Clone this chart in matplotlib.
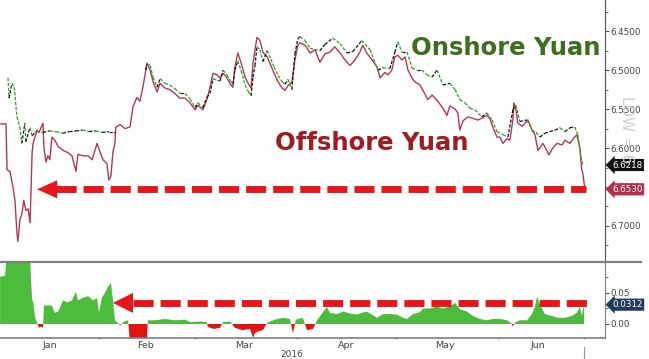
import numpy as np
import pandas as pd
import matplotlib
matplotlib.use("Agg")
import matplotlib.pyplot as plt
import matplotlib.dates as mdates
import matplotlib.transforms as mtransforms
from matplotlib.collections import LineCollection
from matplotlib.ticker import MultipleLocator, FixedLocator, FormatStrFormatter

# days counted from 2016-01-01
cnh_day = [1.0, 2.8, 3.1, 4.0, 4.9, 5.5, 6.1, 6.4, 7.0, 7.6, 8.2, 8.8, 9.5, 10.1, 10.7, 11.0, 12.2, 12.8,
           14.0, 14.3, 14.9, 15.5, 16.1, 16.7, 17.6, 18.6, 20.1, 21.6, 22.8, 24.0, 24.6, 26.1, 27.7, 28.9,
           30.4, 31.3, 32.2, 33.4, 34.0, 34.6, 35.2, 35.8, 36.1, 37.4, 38.9, 40.4, 41.3, 42.5, 43.4, 44.3,
           45.2, 45.5, 46.5,
           47.4, 48.6, 49.5, 51.0, 52.5, 54.0, 55.5, 57.1, 58.6, 60.1, 61.0, 62.5, 63.7, 64.6, 65.6, 66.8,
           67.7, 68.6, 69.8, 70.7, 71.6, 72.2, 73.1, 74.1, 75.3, 76.2, 77.1, 77.7, 78.3, 78.9, 79.8, 80.7,
           82.0, 83.1, 84.1, 85.3, 86.5, 87.4, 88.3, 89.5, 90.4, 91.3, 91.9,
           93.5, 95.0, 96.5, 98.0, 99.5, 101.0, 102.5, 104.1, 105.6, 107.1, 108.6, 110.1, 111.0, 112.2,
           113.8, 115.3, 116.2, 117.7, 118.6, 119.8, 120.7, 121.6, 122.9, 123.8, 124.7, 125.9, 126.8,
           128.3, 129.5, 130.7, 132.0, 132.9, 134.1, 135.3, 136.5, 137.4,
           139.0, 139.8, 140.4, 141.4, 142.9, 144.4, 145.9, 147.4, 148.6, 149.5, 150.5, 151.7, 152.6,
           153.5, 154.7, 155.6, 156.5, 156.8, 157.4, 158.0, 159.3, 160.2, 161.1, 162.3, 163.2, 164.1,
           165.6, 166.8, 167.4, 168.6, 169.9, 171.4, 172.3, 173.8, 175.0, 175.9, 176.8, 177.4, 177.7,
           178.1, 178.4]
cnh_val = [6.569, 6.569, 6.628, 6.630, 6.650, 6.667, 6.709, 6.720, 6.692, 6.685, 6.667, 6.680, 6.678,
           6.696, 6.606, 6.594, 6.577, 6.580, 6.568, 6.599, 6.618, 6.610, 6.615, 6.586, 6.590, 6.598,
           6.603, 6.606, 6.610, 6.630, 6.608, 6.610, 6.610, 6.615, 6.594, 6.605, 6.615, 6.620, 6.641,
           6.636, 6.606, 6.594, 6.573, 6.570, 6.575, 6.573, 6.547, 6.535, 6.540, 6.522, 6.500, 6.491,
           6.500,
           6.515, 6.528, 6.517, 6.523, 6.525, 6.530, 6.536, 6.536, 6.542, 6.551, 6.545, 6.551, 6.538,
           6.523, 6.504, 6.506, 6.510, 6.504, 6.510, 6.517, 6.522, 6.496, 6.478, 6.491, 6.509, 6.517,
           6.523, 6.491, 6.474, 6.458, 6.462, 6.477, 6.483, 6.494, 6.504, 6.515, 6.523, 6.526, 6.520,
           6.515, 6.487, 6.468, 6.465,
           6.468, 6.478, 6.474, 6.490, 6.479, 6.477, 6.470, 6.478, 6.487, 6.494, 6.487, 6.477, 6.468,
           6.478, 6.487, 6.496, 6.510, 6.503, 6.506, 6.500, 6.483, 6.481, 6.487, 6.483, 6.500, 6.510,
           6.515, 6.519, 6.528, 6.538, 6.532, 6.536, 6.542, 6.549, 6.558, 6.546,
           6.550, 6.555, 6.577, 6.565, 6.560, 6.562, 6.564, 6.561, 6.558, 6.562, 6.574, 6.586, 6.586,
           6.594, 6.588, 6.590, 6.564, 6.542, 6.550, 6.568, 6.572, 6.568, 6.564, 6.577, 6.583, 6.603,
           6.594, 6.603, 6.609, 6.600, 6.594, 6.596, 6.590, 6.594, 6.587, 6.583, 6.599, 6.628, 6.632,
           6.645, 6.6530]

cny_day = [3.4, 3.7, 4.6, 5.3, 6.1, 7.0, 7.6, 8.5, 8.8, 10.0, 10.7, 12.0, 14.0, 16.0, 18.0, 20.0, 22.0,
           24.0, 26.0, 28.0, 30.0, 32.0, 34.0, 35.8, 40.0, 45.2, 45.5, 46.5,
           47.4, 48.6, 49.5, 51.0, 52.5, 54.0, 55.5, 57.1, 58.6, 60.1, 61.0, 62.5, 63.7, 64.6, 65.6, 66.8,
           67.7, 68.6, 69.8, 70.7, 71.6, 72.2, 73.1, 74.1, 75.3, 76.2, 77.1, 77.7, 78.3, 78.9, 79.8, 80.7,
           82.0, 83.1, 84.1, 85.3, 86.5, 87.4, 88.3, 89.5, 90.4, 91.3, 91.9, 93.5,
           95.0, 98.0, 99.5, 101.9, 104.1, 106.2, 108.0, 110.7, 113.2, 115.6, 117.1, 119.2, 120.7, 121.6,
           122.9, 124.4, 125.9, 127.4, 128.9, 130.4, 132.0, 133.5, 135.3, 137.4, 139.0, 140.4, 142.0,
           143.5, 145.0, 147.1, 148.6, 150.2, 151.7, 153.5, 155.0, 156.5, 157.4, 158.6, 160.8, 162.3,
           163.5, 164.7, 166.2, 167.7, 169.3, 170.8, 172.3, 173.8, 175.3, 176.2, 177.1, 177.7]
cny_val = [6.510, 6.536, 6.517, 6.522, 6.560, 6.573, 6.594, 6.568, 6.592, 6.574, 6.584, 6.579, 6.580,
           6.578, 6.579, 6.581, 6.579, 6.578, 6.577, 6.579, 6.578, 6.580, 6.579, 6.579, np.nan, 6.500,
           6.492, 6.494,
           6.509, 6.522, 6.511, 6.517, 6.519, 6.524, 6.530, 6.530, 6.537, 6.548, 6.542, 6.548, 6.535,
           6.530, 6.511, 6.513, 6.514, 6.500, 6.506, 6.513, 6.518, 6.500, 6.488, 6.501, 6.519, 6.527,
           6.533, 6.509, 6.494, 6.470, 6.474, 6.489, 6.475, 6.486, 6.496, 6.507, 6.515, 6.518, 6.512,
           6.525, 6.479, 6.460, 6.457, 6.462,
           6.472, 6.475, 6.467, 6.459, 6.466, 6.478, 6.476, 6.462, 6.474, 6.500, 6.497, 6.498, 6.477,
           6.464, 6.477, 6.477, 6.497, 6.500, 6.500, 6.506, 6.509, 6.500, 6.519, 6.517, 6.525, 6.538,
           6.542, 6.549, 6.551, 6.560, 6.555, 6.564, 6.579, 6.583, 6.586, 6.551, 6.545, 6.566, 6.564,
           6.577, 6.580, 6.586, 6.581, 6.579, 6.577, 6.574, 6.579, 6.574, 6.573, 6.583, 6.611, 6.6218]

spread_day = [1.0, 2.5, 3.1, 5.5, 7.6, 9.5, 10.1, 10.7, 11.0, 11.6, 12.2, 12.8, 13.7, 14.0, 14.3, 15.5,
              16.7, 17.6, 18.6, 20.1, 21.3, 22.8, 24.0, 24.6, 26.1, 27.7, 29.2, 30.4, 31.0, 31.9, 32.8,
              33.7, 34.6, 35.2, 35.8, 37.4, 38.6, 39.8, 40.4, 43.4, 45.5, 45.8, 48.0, 51.0, 54.0, 57.1,
              58.6, 61.6, 63.7, 64.0, 65.9, 67.7, 68.6, 70.7, 72.2, 74.4, 76.8, 77.7, 78.3, 79.2, 80.7,
              82.0, 84.4, 86.8, 88.9, 89.8, 90.7, 92.8, 94.1, 95.9, 97.1, 98.9, 100.1, 101.0, 103.2,
              105.0, 107.1, 109.2, 110.7, 112.2, 113.8, 115.3, 117.1, 119.2, 121.4, 123.2, 124.4, 126.2,
              128.3, 129.2, 131.3, 133.5, 135.3, 137.4, 139.0, 140.4, 142.6, 144.4, 146.5, 148.6, 150.5,
              152.6, 154.7, 155.9, 156.5, 157.1, 158.6, 160.8, 162.3, 163.2, 163.8, 164.7, 166.2, 168.3,
              170.2, 172.3, 174.4, 175.9, 176.8, 177.4, 178.1]
spread_val = [0.076, 0.078, 0.115, 0.120, 0.110, 0.120, 0.105, 0.039, 0.036, 0.011, 0.002, -0.006,
              -0.004, -0.008, 0.030, 0.030, 0.030, 0.018, 0.020, 0.038, 0.035, 0.038, 0.052, 0.038,
              0.042, 0.045, 0.038, 0.042, 0.019, 0.043, 0.050, 0.060, 0.066, 0.040, 0.006, -0.002,
              0.004, 0.006, -0.030, -0.040, -0.030, 0.006, 0.006, 0.008, 0.006, 0.007, 0.003, 0.004,
              0.003, -0.005, -0.008, -0.006, 0.003, 0.004, -0.006, -0.010, -0.008, -0.022, -0.015,
              -0.012, -0.010, 0.002, 0.007, 0.010, 0.008, -0.015, 0.007, 0.010, -0.010, -0.008, 0.006,
              0.019, 0.028, 0.018, 0.016, 0.020, 0.017, 0.015, 0.018, 0.020, 0.015, 0.010, 0.016, 0.016,
              0.015, 0.010, 0.008, 0.016, 0.019, 0.025, 0.025, 0.028, 0.025, 0.028, 0.034, 0.024, 0.020,
              0.013, 0.008, 0.006, 0.008, 0.008, 0.006, 0.002, -0.004, 0.002, 0.006, 0.006, 0.016, 0.028,
              0.044, 0.032, 0.016, 0.013, 0.010, 0.010, 0.013, 0.018, 0.028, 0.014, 0.0312]

month_labels = ["Jan", "Feb", "Mar", "Apr", "May", "Jun"]
month_label_days = [16, 45, 75, 106, 136, 164]
month_tick_days = [31, 60, 91, 121, 152, 178]
year_label = "2016"
year_label_day = 89.5

start = pd.Timestamp("2016-01-01")


def to_dates(days):
    return start + pd.to_timedelta(np.asarray(days, dtype=float), unit="D")


cnh_x = to_dates(cnh_day)
cny_x = to_dates(cny_day)
spr_x = to_dates(spread_day)
spr = np.array(spread_val)

RED = "#e8161b"
GREEN_FILL = "#4dbb3d"
NEG_FILL = "#e3140f"

fig = plt.figure(figsize=(6.49, 3.59), dpi=100)
ax = fig.add_axes([0.0, 0.273, 0.932, 0.727])
ax2 = fig.add_axes([0.0, 0.0585, 0.932, 0.2117], sharex=ax)

# --- top panel: offshore line + onshore as short broken candle-like strokes
ax.plot(cnh_x, cnh_val, color="#b2385a", lw=1.0, zorder=2)

xn = mdates.date2num(cny_x)
yv = np.array(cny_val)
pts = np.column_stack([xn, yv])
segs = np.stack([pts[:-1], pts[1:]], axis=1)
seg_cols = ["#2f9a2f" if d > 0 else "#111111" for d in np.diff(yv)]
ax.add_collection(LineCollection(segs, colors=seg_cols, linewidths=0.9,
                                 linestyles=[(0, (2.6, 1.3))], zorder=3))

ax.set_ylim(6.745, 6.410)
ax.set_xlim(to_dates([0.97])[0], to_dates([184.4])[0])

# red dashed arrow at the offshore level
lvl = cnh_val[-1]
ax.plot(to_dates([18.0, 178.6]), [lvl, lvl], color=RED, lw=5, dashes=(2.9, 1.0),
        dash_capstyle="butt", zorder=4)
ax.annotate("", xy=(to_dates([12.2])[0], lvl), xytext=(to_dates([18.4])[0], lvl),
            arrowprops=dict(arrowstyle="-|>,head_length=1.45,head_width=0.65", color=RED,
                            lw=0, shrinkA=0, shrinkB=0, mutation_scale=10), zorder=4)

ax.text(0.679, 0.789, "Onshore Yuan", transform=ax.transAxes, fontsize=17.5, fontweight="bold",
        color="#3e6f1f", va="baseline", ha="left")
ax.text(0.4545, 0.425, "Offshore Yuan", transform=ax.transAxes, fontsize=17.5, fontweight="bold",
        color="#9e1c22", va="baseline", ha="left")

for s in ["top", "left", "bottom"]:
    ax.spines[s].set_visible(False)
ax.spines["right"].set_color("#555555")
ax.yaxis.tick_right()
ax.yaxis.set_major_locator(MultipleLocator(0.05))
ax.yaxis.set_minor_locator(MultipleLocator(0.025))
ax.yaxis.set_major_formatter(FormatStrFormatter("%.4f"))
ax.tick_params(axis="y", which="major", length=3, color="#555555", labelsize=6.3,
               labelcolor="#444444", pad=1)
ax.tick_params(axis="y", which="minor", length=2, color="#555555")
ax.tick_params(axis="x", which="both", bottom=False, labelbottom=False)

# faint side note, partly hidden behind the badges as in the original
fig.text(0.966, 0.64, "LOW = 6", rotation=270, fontsize=11, color="#cfcfcf",
         ha="center", va="center", zorder=0)

# value badges
btr = mtransforms.blended_transform_factory(ax.transAxes, ax.transData)
ax.text(1.012, cny_val[-1], f"{cny_val[-1]:.4f}", transform=btr, fontsize=6.3, color="white",
        va="center", ha="left", zorder=6,
        bbox=dict(boxstyle="larrow,pad=0.18", fc="#111111", ec="none"))
ax.text(1.012, cnh_val[-1], f"{cnh_val[-1]:.4f}", transform=btr, fontsize=6.3, color="white",
        va="center", ha="left", zorder=6,
        bbox=dict(boxstyle="larrow,pad=0.18", fc="#b2304d", ec="none"))

# --- bottom panel: spread
ax2.fill_between(spr_x, 0, spr, where=spr >= 0, interpolate=True, color=GREEN_FILL, lw=0)
ax2.fill_between(spr_x, 0, spr, where=spr <= 0, interpolate=True, color=NEG_FILL, lw=0)
ax2.set_ylim(-0.0226, 0.100)

slvl = 0.034
ax2.plot(to_dates([41.3, 179.0]), [slvl, slvl], color=RED, lw=5, dashes=(2.9, 1.0),
         dash_capstyle="butt", zorder=4)
ax2.annotate("", xy=(to_dates([35.2])[0], slvl), xytext=(to_dates([41.5])[0], slvl),
             arrowprops=dict(arrowstyle="-|>,head_length=1.45,head_width=0.72", color=RED,
                             lw=0, shrinkA=0, shrinkB=0, mutation_scale=10), zorder=4)

ax2.spines["left"].set_visible(False)
for s in ["top", "right", "bottom"]:
    ax2.spines[s].set_color("#7f7f7f")
ax2.spines["top"].set_linewidth(1.6)
ax2.spines["bottom"].set_linewidth(1.2)
ax2.plot([1.0, 1.06], [1.0, 1.0], transform=ax2.transAxes, color="#7f7f7f", lw=1.6,
         clip_on=False)
ax2.yaxis.tick_right()
ax2.yaxis.set_major_locator(FixedLocator([0.0, 0.05]))
ax2.yaxis.set_minor_locator(FixedLocator([0.025, 0.075, 0.1]))
ax2.yaxis.set_major_formatter(FormatStrFormatter("%.2f"))
ax2.tick_params(axis="y", which="major", length=3, color="#555555", labelsize=6.3,
                labelcolor="#444444", pad=1)
ax2.tick_params(axis="y", which="minor", length=2, color="#555555")

btr2 = mtransforms.blended_transform_factory(ax2.transAxes, ax2.transData)
ax2.text(1.012, spread_val[-1], f"{spread_val[-1]:.4f}", transform=btr2, fontsize=6.3,
         color="white", va="center", ha="left", zorder=6,
         bbox=dict(boxstyle="larrow,pad=0.18", fc="#1f3c5e", ec="none"))

ax2.xaxis.set_major_locator(FixedLocator(mdates.date2num(to_dates(month_tick_days))))
ax2.xaxis.set_minor_locator(FixedLocator(mdates.date2num(to_dates(month_label_days))))
ax2.xaxis.set_major_formatter(plt.NullFormatter())
ax2.xaxis.set_minor_formatter(plt.FixedFormatter(month_labels))
ax2.tick_params(axis="x", which="major", length=2, color="#777777", direction="inout")
ax2.tick_params(axis="x", which="minor", length=0, labelsize=6.8, labelcolor="#444444", pad=2)

ax2.text(to_dates([year_label_day])[0], -0.215, year_label,
         transform=mtransforms.blended_transform_factory(ax2.transData, ax2.transAxes),
         fontsize=6.5, color="#444444", ha="center", va="center")
ax2.axvline(to_dates([month_tick_days[-1]])[0], ymin=-0.28, ymax=-0.12, color="#999999", lw=0.8,
            clip_on=False)

fig.savefig("out.png", dpi=100)
